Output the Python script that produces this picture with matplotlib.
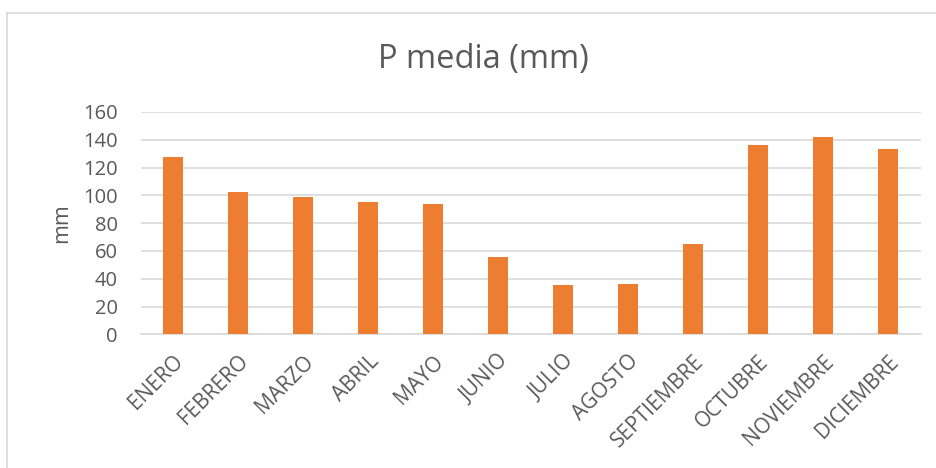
import matplotlib.pyplot as plt
from matplotlib.lines import Line2D

# Monthly mean precipitation (mm)
meses = ['ENERO', 'FEBRERO', 'MARZO', 'ABRIL', 'MAYO', 'JUNIO', 'JULIO',
         'AGOSTO', 'SEPTIEMBRE', 'OCTUBRE', 'NOVIEMBRE', 'DICIEMBRE']
p_media = [127.6, 102.4, 98.8, 95.0, 94.0, 55.4, 35.5, 36.0, 65.2, 136.2, 141.7, 133.1]
y_ticks = [0, 20, 40, 60, 80, 100, 120, 140, 160]

plt.rcParams['font.family'] = ['Open Sans', 'DejaVu Sans']
text_color = '#595959'
grid_color = '#D9D9D9'

fig = plt.figure(figsize=(9.37, 4.68), dpi=100)
ax = fig.add_axes([0.150, 0.2857, 0.8326, 0.475])

x = range(len(meses))
ax.bar(x, p_media, width=0.31, color='#ED7D31', zorder=3)

ax.set_xlim(-0.5, len(meses) - 0.5)
ax.set_ylim(0, 160)
ax.set_yticks(y_ticks)
ax.set_xticks(list(x))
ax.set_xticklabels(meses, rotation=45, ha='right', rotation_mode='anchor')
ax.tick_params(axis='x', length=0, colors=text_color, labelsize=15, pad=12)
ax.tick_params(axis='y', length=0, colors=text_color, labelsize=14.5, pad=16.5)

ax.grid(axis='y', color=grid_color, linewidth=1.2, zorder=0)
for side in ['top', 'right', 'left']:
    ax.spines[side].set_visible(False)
ax.spines['bottom'].set_color(grid_color)
ax.spines['bottom'].set_linewidth(1.2)

ax.set_ylabel('mm', color=text_color, fontsize=15.5, labelpad=8)
fig.text(0.516, 0.872, 'P media (mm)', ha='center', va='center',
         color=text_color, fontsize=23.5)

# chart frame (only top and left edges show in the crop)
fig.add_artist(Line2D([0.008, 1.0], [0.972, 0.972], transform=fig.transFigure,
                      color=grid_color, linewidth=1.2))
fig.add_artist(Line2D([0.008, 0.008], [0.0, 0.972], transform=fig.transFigure,
                      color=grid_color, linewidth=1.2))

fig.savefig('out.png', dpi=100)
